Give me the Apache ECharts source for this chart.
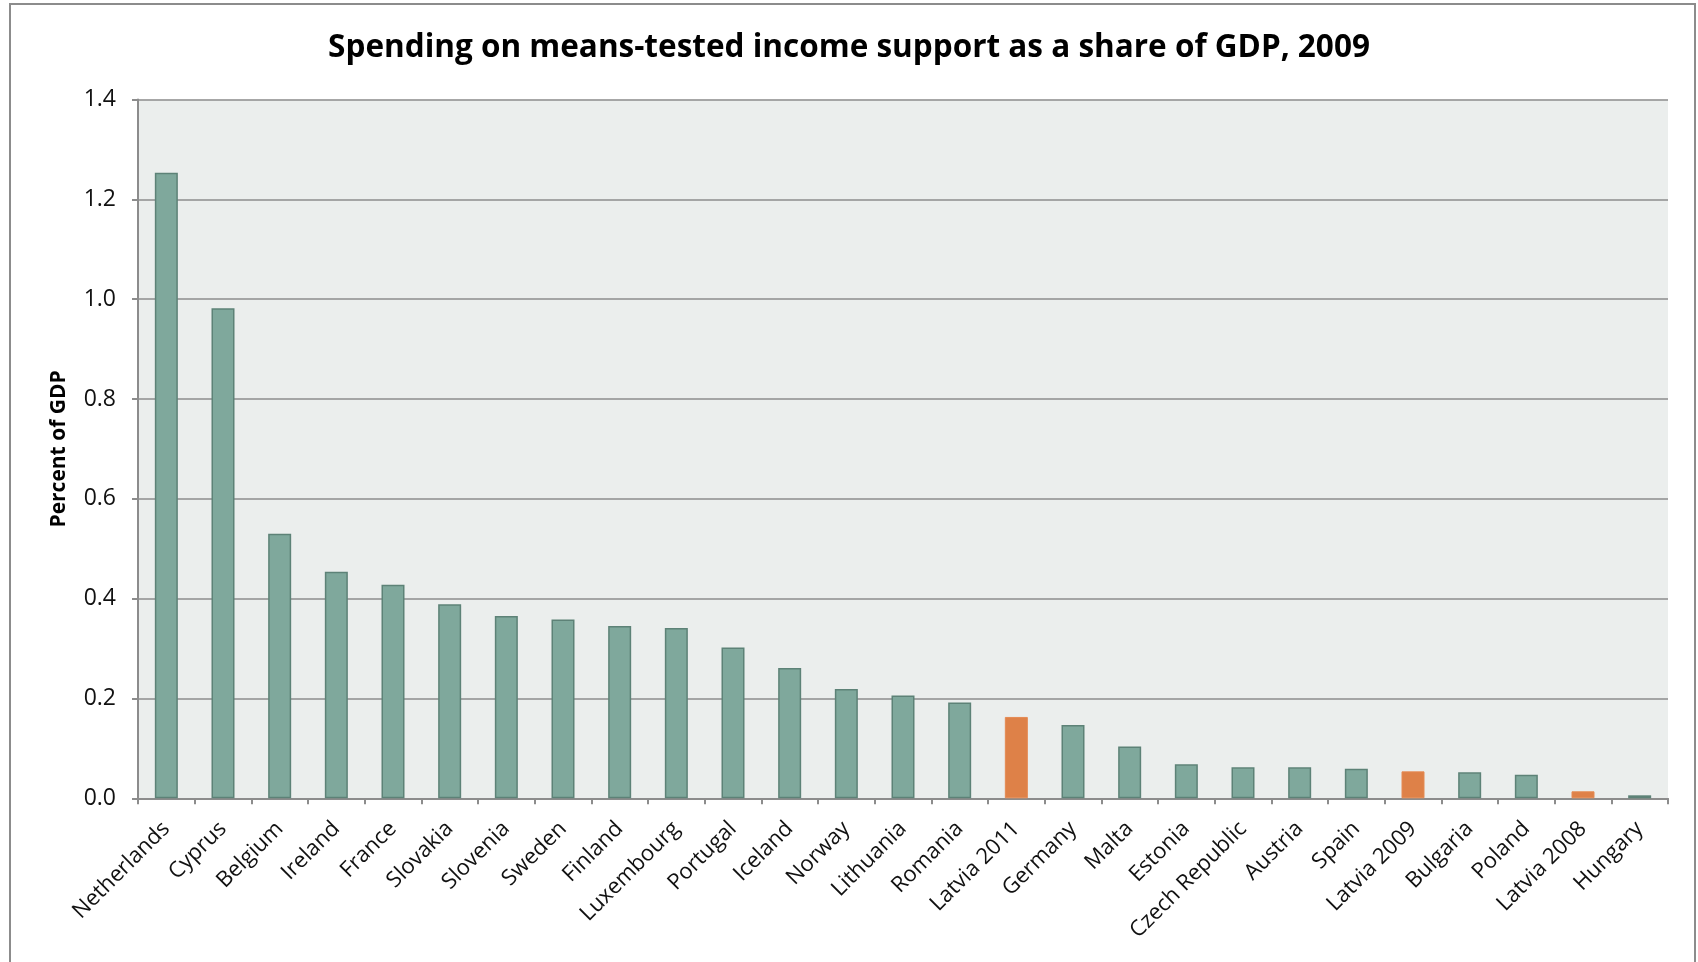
<!DOCTYPE html>
<html>
<head>
<meta charset="utf-8">
<title>Means-tested income support, 2009</title>
<script src="https://cdn.jsdelivr.net/npm/echarts@6/dist/echarts.min.js"></script>
<style>
  html, body { margin: 0; padding: 0; background: #ffffff; }
  #chart { width: 1698px; height: 962px; }
</style>
</head>
<body>
<div id="chart"></div>
<script>
// Countries ranked by spending on means-tested income support (% of GDP)
const categories = [
  'Netherlands', 'Cyprus', 'Belgium', 'Ireland', 'France', 'Slovakia', 'Slovenia',
  'Sweden', 'Finland', 'Luxembourg', 'Portugal', 'Iceland', 'Norway', 'Lithuania',
  'Romania', 'Latvia 2011', 'Germany', 'Malta', 'Estonia', 'Czech Republic',
  'Austria', 'Spain', 'Latvia 2009', 'Bulgaria', 'Poland', 'Latvia 2008', 'Hungary'
];
const values = [
  1.253, 0.982, 0.530, 0.454, 0.428, 0.389, 0.365,
  0.358, 0.345, 0.341, 0.302, 0.261, 0.219, 0.206,
  0.192, 0.163, 0.147, 0.104, 0.068, 0.062,
  0.062, 0.059, 0.054, 0.052, 0.047, 0.014, 0.006
];
const yTicks = [0, 0.2, 0.4, 0.6, 0.8, 1.0, 1.2, 1.4];

const TEXT_FONT = '"Open Sans", Lato, sans-serif';
const GRID_GREY = '#8c8c8c';

const barData = categories.map((name, i) => {
  const latvia = name.startsWith('Latvia');
  return {
    value: values[i],
    itemStyle: latvia
      ? { color: '#de8148', borderColor: '#e58a52', borderWidth: 1 }
      : { color: '#7fa89c', borderColor: '#5d8277', borderWidth: 1.5 }
  };
});

const chart = echarts.init(document.getElementById('chart'), null, { renderer: 'canvas' });

chart.setOption({
  animation: false,
  backgroundColor: '#ffffff',
  title: {
    text: 'Spending on means-tested income support as a share of GDP, 2009',
    left: 'center',
    top: 27,
    textStyle: { fontFamily: TEXT_FONT, fontWeight: 'bold', fontSize: 31.5, color: '#000000' }
  },
  graphic: [{
    type: 'rect',
    shape: { x: 10, y: 4, width: 1685, height: 1000 },
    style: { fill: 'none', stroke: GRID_GREY, lineWidth: 2 },
    silent: true
  }],
  grid: {
    left: 138, right: 30, top: 99.5, bottom: 163.7,
    show: true, backgroundColor: '#ebeeed', borderWidth: 0
  },
  xAxis: {
    type: 'category',
    data: categories,
    axisLine: { show: true, lineStyle: { color: GRID_GREY, width: 2 } },
    axisTick: { show: true, interval: 0, length: 6, lineStyle: { color: GRID_GREY, width: 2 } },
    axisLabel: {
      interval: 0, rotate: 45, margin: 27,
      fontFamily: TEXT_FONT, fontSize: 22, color: '#111111'
    }
  },
  yAxis: {
    type: 'value',
    min: 0, max: 1.4, interval: 0.2,
    name: 'Percent of GDP',
    nameLocation: 'middle',
    nameRotate: 90,
    nameGap: 68,
    nameTextStyle: { fontFamily: TEXT_FONT, fontWeight: 'bold', fontSize: 21, color: '#000000' },
    axisLine: { show: true, lineStyle: { color: GRID_GREY, width: 2 } },
    axisTick: { show: true, length: 6, lineStyle: { color: GRID_GREY, width: 2 } },
    axisLabel: {
      margin: 22,
      fontFamily: TEXT_FONT, fontSize: 23, color: '#111111',
      formatter: v => {
        const t = yTicks.find(x => Math.abs(x - v) < 1e-9);
        return (t === undefined ? v : t).toFixed(1);
      }
    },
    splitLine: { show: true, lineStyle: { color: GRID_GREY, width: 1.5 } }
  },
  series: [{
    type: 'bar',
    data: barData,
    barWidth: 23
  }]
});
</script>
</body>
</html>
